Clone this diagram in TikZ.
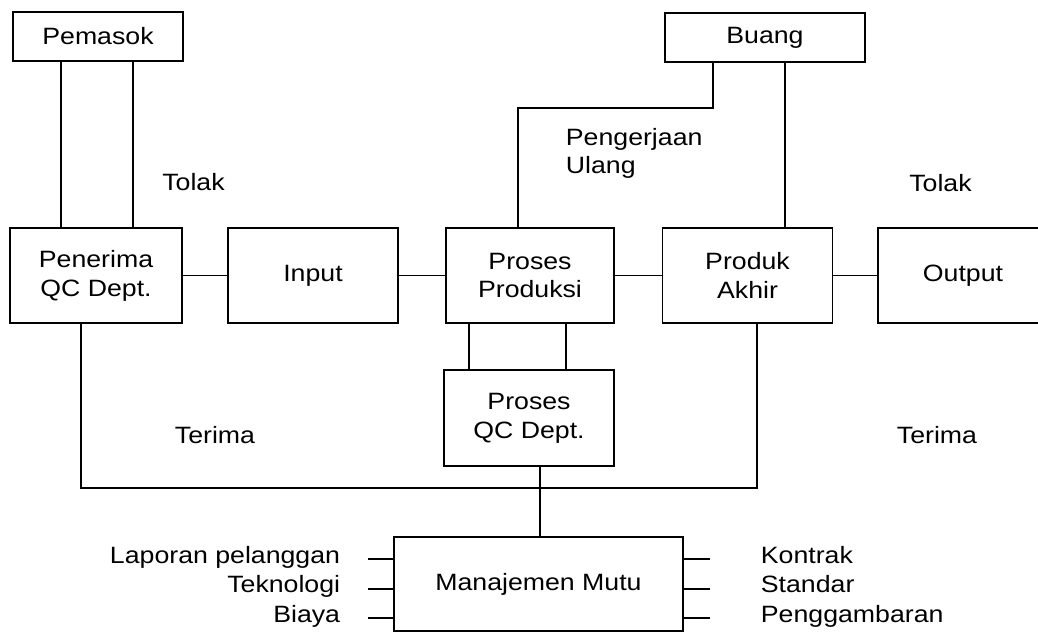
\documentclass[tikz,border=0pt]{standalone}
\usepackage{fontspec}
\setmainfont{Liberation Sans}[FakeStretch=1.13]
\tikzset{
  every picture/.style={
    line width=1.3pt
  },
  every node/.style={font=\fontsize{16.8}{20.5}\selectfont},
  box/.style={draw, align=center, minimum width=4.25cm, minimum height=2.375cm},
  smallbox/.style={draw, minimum width=4.25cm, minimum height=1.225cm},
  side/.style={inner sep=0pt}
}
\begin{document}
\begin{tikzpicture}[x=0.025cm, y=-0.025cm]
  \useasboundingbox (0,0) rectangle (1038,632);
  \node[smallbox] (pem) at (98,36.5) {Pemasok};
  \node[smallbox, minimum width=5cm] (bu) at (765,37.5) {Buang};
  \node[box, minimum width=4.3cm] (pen) at (96,275.5) {Penerima\\QC Dept.};
  \node[box] (inp) at (313,275.5) {Input};
  \node[box, minimum width=4.2cm] (pp) at (530,275.5) {Proses\\Produksi};
  \node[box] (pa) at (747.5,275.5) {Produk\\Akhir};
  \node[box] (out) at (963,275.5) {Output};
  \node[box, minimum height=2.4cm] (qc) at (529,418) {Proses\\QC Dept.};
  \node[box, minimum width=7.225cm, minimum height=2.35cm] (mm) at (538.5,584) {Manajemen Mutu};

  \node[anchor=base] (tl1) at (193.5,190) {Tolak};
  \node[anchor=base] (tl2) at (940.5,191) {Tolak};
  \node[anchor=north west, align=left, inner sep=0pt] (pu) at (565,127) {Pengerjaan\\Ulang};
  \node[anchor=base] (tr1) at (215,443) {Terima};
  \node[anchor=base] (tr2) at (937,443) {Terima};

  \draw ([xshift=-0.875cm]pen.north) -- ([xshift=-0.875cm]pen.north |- pem.south);
  \draw ([xshift=0.925cm]pen.north) -- ([xshift=0.925cm]pen.north |- pem.south);
  \draw (pen) -- (inp) -- (pp) -- (pa) -- (out);

  \coordinate (rw) at (518,108);
  \draw ([xshift=-1.3cm]bu.south) |- (rw) -- (rw |- pp.north);
  \draw ([xshift=0.5cm]bu.south) -- ([xshift=0.5cm]bu.south |- pa.north);

  \draw ([xshift=-1.525cm]pp.south) -- ([xshift=-1.525cm]pp.south |- qc.north);
  \draw ([xshift=0.9cm]pp.south) -- ([xshift=0.9cm]pp.south |- qc.north);

  \coordinate (jn) at (540,488);
  \draw ([xshift=-0.375cm]pen.south) |- (jn) -| ([xshift=0.24cm]pa.south);
  \draw (qc.south -| jn) -- (mm.north -| jn);

  % inputs to the quality management
  \foreach \n/\t/\y in {lp/Laporan pelanggan/563, tek/Teknologi/592.5, bia/Biaya/622} {
    \node[side, anchor=base east] (\n) at (341,\y) {\t};
    \draw (mm.west |- \n.mid) -- ++(-0.625cm,0);
  }
  \foreach \n/\t/\y in {kon/Kontrak/563, sta/Standar/592.5, pgb/Penggambaran/622} {
    \node[side, anchor=base west] (\n) at (760,\y) {\t};
    \draw (mm.east |- \n.mid) -- ++(0.65cm,0);
  }
\end{tikzpicture}
\end{document}
